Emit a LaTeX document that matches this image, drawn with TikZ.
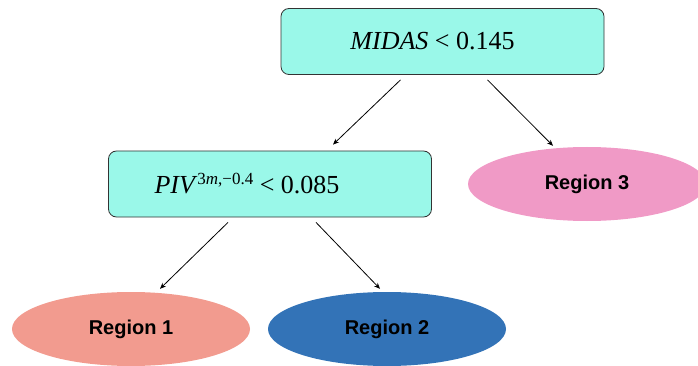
\documentclass[tikz,border=0pt]{standalone}
\usepackage{fontspec}
\setsansfont{Liberation Sans}
\newfontfamily\termsfont{Liberation Serif}
\usepackage{xcolor}
\usepackage{tikz}
\usetikzlibrary{shapes}
\usetikzlibrary{arrows.meta}
\definecolor{splitfill}{HTML}{9AF8E9}
\definecolor{regA}{HTML}{F29B8F}
\definecolor{regB}{HTML}{3373B7}
\definecolor{regC}{HTML}{F09AC6}
\newcommand{\supof}[1]{\raisebox{9pt}{\fontsize{17}{20}\selectfont #1}}

\begin{document}
\begin{tikzpicture}[x=1pt, y=1pt,
		split/.style={rectangle, draw=black!80, line width=0.8pt, rounded corners=8pt, fill=splitfill, minimum width=323pt, minimum height=66pt, font=\fontsize{26}{30}\selectfont\termsfont},
		region/.style={ellipse, minimum width=238pt, minimum height=74pt, inner sep=0pt, font=\fontsize{20}{24}\selectfont\sffamily\bfseries},
		>={Stealth[length=6pt, width=5pt]}
		]
		
			\useasboundingbox (0,0) rectangle (698,-366);
			
			\node[split] (t1) at (442.5, -41.5) {\textit{MIDAS} < 0.145\hspace*{20pt}};
			\node[split] (t2) at (270, -184) {\textit{PIV}\supof{3\textit{m},−0.4} < 0.085\hspace*{46pt}};
	
			\foreach \x/\y/\col [count=\step from 1] in {131/-329/regA, 387/-329/regB, 587/-184/regC}
			\node[region, fill=\col] (r\step) at (\x, \y) {Region \step};
			
			\draw[->, line width=0.8pt] ([xshift=-42pt, yshift=-5pt]t1.south) -- ([xshift=63pt, yshift=6pt]t2.north);
			\draw[->, line width=0.8pt] ([xshift=45pt, yshift=-5pt]t1.south) -- ([xshift=-34pt, yshift=1pt]r3.north);
			\draw[->, line width=0.8pt] ([xshift=-42pt, yshift=-5pt]t2.south) -- ([xshift=29pt, yshift=3pt]r1.north);
			\draw[->, line width=0.8pt] ([xshift=46pt, yshift=-5pt]t2.south) -- ([xshift=-7pt, yshift=3pt]r2.north);
	
			\end{tikzpicture}
\end{document}
